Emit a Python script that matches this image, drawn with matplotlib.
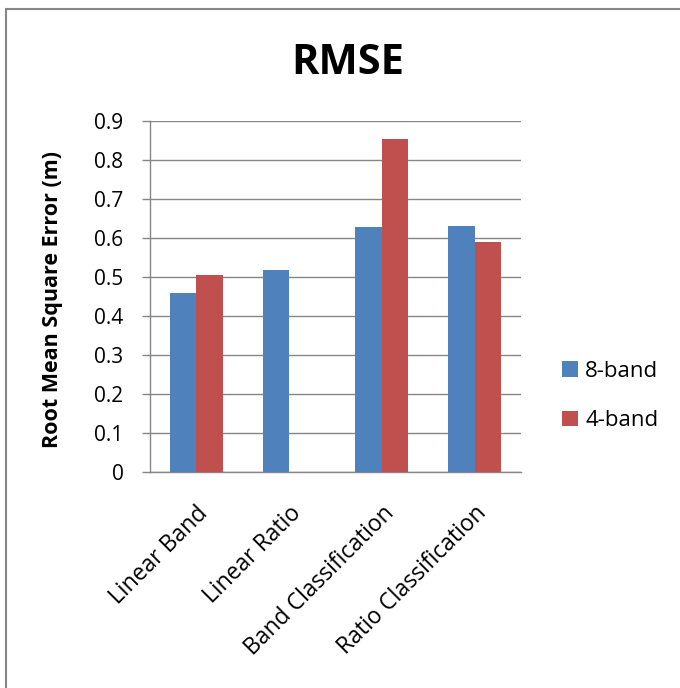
import matplotlib
matplotlib.use("Agg")
import matplotlib.pyplot as plt
from matplotlib.patches import Rectangle
from matplotlib.transforms import ScaledTranslation
import numpy as np

plt.rcParams['font.family'] = ['Open Sans', 'DejaVu Sans']

categories = ["Linear Band", "Linear Ratio", "Band Classification", "Ratio Classification"]
series_names = ["8-band", "4-band"]
rmse_8band = [0.459, 0.519, 0.627, 0.630]
rmse_4band = [0.504, np.nan, 0.854, 0.589]
colors = ["#4F81BD", "#C0504D"]
y_ticks = [0, 0.1, 0.2, 0.3, 0.4, 0.5, 0.6, 0.7, 0.8, 0.9]
y_tick_labels = ["0", "0.1", "0.2", "0.3", "0.4", "0.5", "0.6", "0.7", "0.8", "0.9"]

W, H = 680, 688
fig = plt.figure(figsize=(W / 100, H / 100), dpi=100)
ax = fig.add_axes([150 / W, 1 - 472 / H, 371 / W, 351 / H])

x = np.arange(len(categories))
bw = 0.286
grid_c = "#868686"
ax.bar(x - bw / 2, rmse_8band, width=bw, color=colors[0], label=series_names[0], zorder=3)
ax.bar(x + bw / 2, rmse_4band, width=bw, color=colors[1], label=series_names[1], zorder=3)

ax.set_xlim(-0.5, len(categories) - 0.5)
ax.set_ylim(0, 0.9)
ax.set_yticks(y_ticks)
ax.set_yticklabels(y_tick_labels, fontsize=15)
ax.set_xticks(x)
ax.set_xticklabels(categories, fontsize=16.5, rotation=45, ha='right', va='top',
                   rotation_mode='anchor')
shift = ScaledTranslation(-4 / 100, 0, fig.dpi_scale_trans)
for lbl in ax.get_xticklabels():
    lbl.set_transform(lbl.get_transform() + shift)
ax.tick_params(axis='x', length=0, pad=21)
ax.tick_params(axis='y', length=6, width=1.0, color=grid_c, pad=13, direction='out')
ax.grid(axis='y', color=grid_c, linewidth=1.0, zorder=0)
for s in ['top', 'right']:
    ax.spines[s].set_visible(False)
for s in ['left', 'bottom']:
    ax.spines[s].set_color(grid_c)
    ax.spines[s].set_linewidth(1.0)

fig.text(53 / W, 1 - 300 / H, "Root Mean Square Error (m)", fontsize=15.5,
         fontweight='bold', rotation=90, ha='center', va='center')

fig.text(348 / W, 1 - 63 / H, "RMSE", fontsize=30, fontweight='bold',
         ha='center', va='center')

fig.legend(loc='center left', bbox_to_anchor=(542 / W, 1 - 396 / H), frameon=False,
           fontsize=16, handlelength=0.7, handleheight=0.7, handletextpad=0.35,
           labelspacing=1.3)

fig.add_artist(Rectangle((5.5 / W, -0.1), 2, 0.1 + 1 - 8.5 / H, transform=fig.transFigure,
                         fill=False, edgecolor=grid_c, linewidth=1.5))

fig.savefig("out.png", dpi=100)
